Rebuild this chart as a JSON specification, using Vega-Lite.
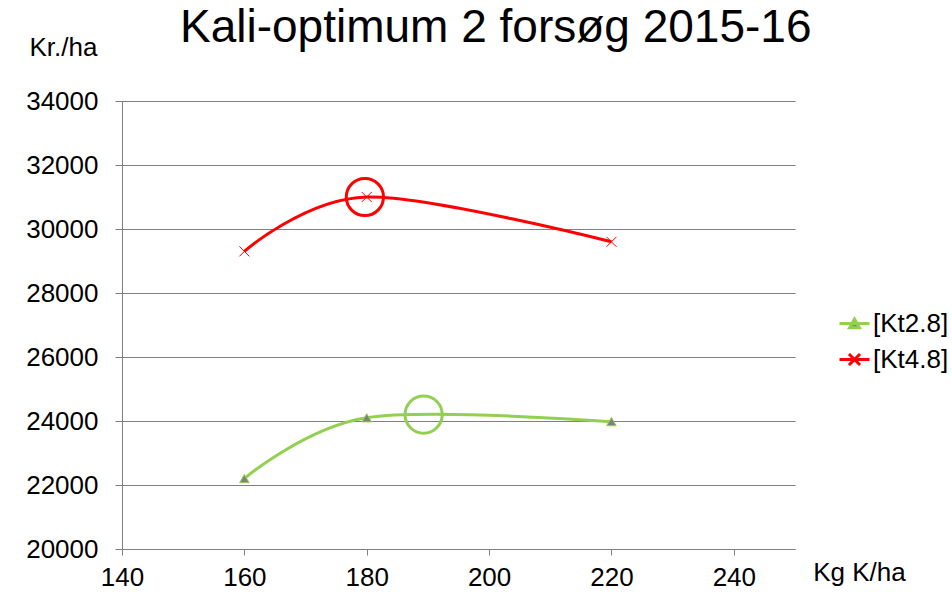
{
  "$schema": "https://vega.github.io/schema/vega-lite/v6.json",
  "autosize": "none",
  "width": 673,
  "height": 448,
  "padding": {"left": 122, "top": 101, "right": 157, "bottom": 52},
  "background": "white",
  "config": {
    "font": "Liberation Sans",
    "view": {"stroke": null},
    "axis": {"labelColor": "black", "titleColor": "black", "labelFont": "Liberation Sans", "titleFont": "Liberation Sans", "titleFontWeight": "normal"}
  },
  "title": {
    "text": "Kali-optimum  2 forsøg 2015-16",
    "fontSize": 46,
    "fontWeight": "normal",
    "color": "black",
    "anchor": "start",
    "frame": "group",
    "dx": 58,
    "dy": 28,
    "offset": 10
  },
  "datasets": {
    "lines": [
      {"k": 160, "value": 22200, "series": "[Kt2.8]"},
      {"k": 180, "value": 24100, "series": "[Kt2.8]"},
      {"k": 220, "value": 23980, "series": "[Kt2.8]"},
      {"k": 160, "value": 29300, "series": "[Kt4.8]"},
      {"k": 180, "value": 31000, "series": "[Kt4.8]"},
      {"k": 220, "value": 29600, "series": "[Kt4.8]"}
    ],
    "circles": [
      {"k": 189.3, "value": 24200, "series": "[Kt2.8]"},
      {"k": 179.7, "value": 31000, "series": "[Kt4.8]"}
    ]
  },
  "encoding": {
    "x": {
      "field": "k",
      "type": "quantitative",
      "scale": {"domain": [140, 250], "nice": false, "zero": false},
      "axis": {
        "values": [140, 160, 180, 200, 220, 240],
        "labelFontSize": 26,
        "tickSize": 6,
        "labelPadding": 9,
        "domainColor": "#808080",
        "tickColor": "#808080",
        "grid": false,
        "title": "Kg K/ha",
        "titleFontSize": 26,
        "titleAngle": 0,
        "titleX": 737,
        "titleY": 31,
        "titleAlign": "center",
        "titleBaseline": "alphabetic",
        "labelFlush": false
      }
    },
    "y": {
      "field": "value",
      "type": "quantitative",
      "scale": {"domain": [20000, 34000], "nice": false, "zero": false},
      "axis": {
        "values": [20000, 22000, 24000, 26000, 28000, 30000, 32000, 34000],
        "format": "d",
        "labelFontSize": 26,
        "tickSize": 7,
        "labelPadding": 17,
        "domainColor": "#808080",
        "tickColor": "#808080",
        "grid": true,
        "gridColor": "#808080",
        "gridOpacity": 1,
        "title": "Kr./ha",
        "titleFontSize": 26,
        "titleAngle": 0,
        "titleX": -59,
        "titleY": -46,
        "titleAlign": "center",
        "titleBaseline": "alphabetic",
        "labelFlush": false
      }
    }
  },
  "layer": [
    {
      "data": {"name": "lines"},
      "mark": {"type": "line", "interpolate": "cardinal", "strokeWidth": 3},
      "encoding": {
        "color": {
          "field": "series",
          "type": "nominal",
          "scale": {"domain": ["[Kt2.8]", "[Kt4.8]"], "range": ["#92D050", "#FF0000"]},
          "legend": {
            "title": null,
            "orient": "none",
            "legendX": 716,
            "legendY": 206,
            "symbolSize": 900,
            "labelFontSize": 26,
            "labelColor": "black",
            "labelOffset": 2,
            "rowPadding": 6,
            "encode": {
              "symbols": {
                "update": {
                  "shape": {"signal": "datum.value === '[Kt2.8]' ? 'M-1,0L1,0M-0.33,0.28L0,-0.3L0.33,0.28Z' : 'M-1,0L1,0M-0.37,-0.37L0.37,0.37M-0.37,0.37L0.37,-0.37'"},
                  "fill": {"value": "#808080"},
                  "strokeWidth": {"value": 3}
                }
              }
            }
          }
        }
      }
    },
    {
      "data": {"name": "lines"},
      "transform": [{"filter": "datum.series === '[Kt2.8]'"}],
      "mark": {"type": "point", "shape": "triangle-up", "filled": true, "fill": "#808080", "stroke": "#92D050", "strokeWidth": 1, "size": 90, "opacity": 1}
    },
    {
      "data": {"name": "lines"},
      "transform": [{"filter": "datum.series === '[Kt4.8]'"}],
      "mark": {"type": "point", "shape": "M-1,-1L1,1M-1,1L1,-1", "filled": false, "stroke": "#FF0000", "strokeWidth": 1, "size": 100, "opacity": 1}
    },
    {
      "data": {"name": "circles"},
      "mark": {"type": "point", "shape": "circle", "filled": false, "strokeWidth": 3, "size": 1385, "opacity": 1},
      "encoding": {
        "color": {"field": "series", "type": "nominal", "legend": null}
      }
    }
  ]
}
